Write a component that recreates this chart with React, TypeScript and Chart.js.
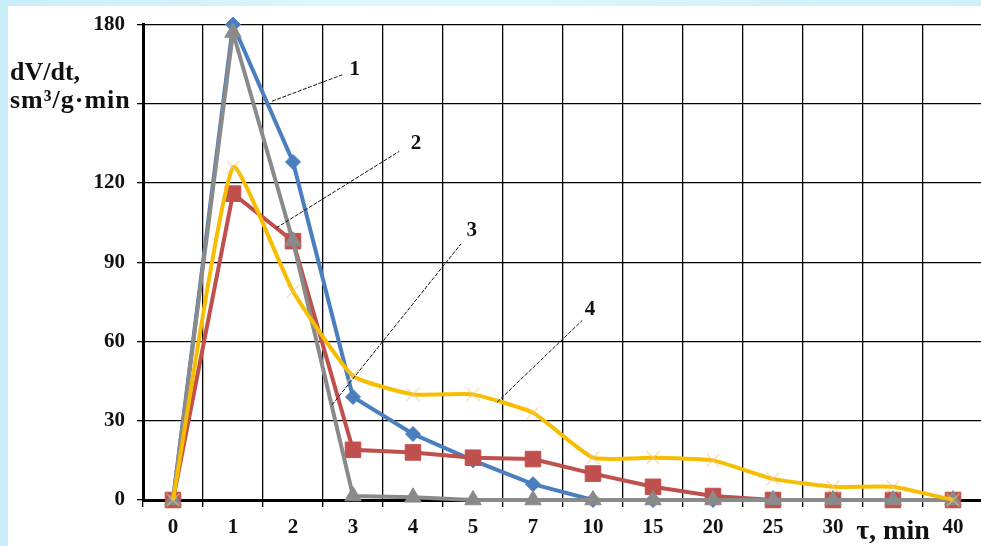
import { useEffect, useRef } from 'react';
import { Chart, registerables } from 'chart.js';

Chart.register(...registerables);

// ---- data ----
const categories = ['0', '1', '2', '3', '4', '5', '7', '10', '15', '20', '25', '30', 'τ, min', '40'];
const xAxisTitle = 'τ, min';
const seriesNames = ['1', '2', '3', '4'];
const curve1 = [0, 180, 128, 39, 25, 15, 6, 0, 0, 0, 0, 0, 0, 0];
const curve2 = [0, 116, 98, 19, 18, 16, 15.5, 10, 5, 1.5, 0, 0, 0, 0];
const curve3 = [0, 177, 98, 1.5, 1, 0, 0, 0, 0, 0, 0, 0, 0, 0];
const curve4 = [0, 126, 79, 47, 40, 40, 33, 16, 16, 15, 8, 5, 5, 0];
const yTickValues = [0, 30, 60, 90, 120, 150, 180];
const yTickLabels = ['0', '30', '60', '90', '120', '', '180'];
const yTitleLines = ['dV/dt,', 'sm³/g·min'];

// callouts in data space: [category index, value]
const calloutText = ['1', '2', '3', '4'];
const calloutFrom = [[1.65, 151], [1.72, 103], [2.65, 36], [5.4, 37]];
const calloutTo = [[2.82, 161], [3.77, 132], [4.8, 97], [6.82, 68]];
const calloutLabelAt = [[3.03, 163], [4.05, 135], [4.98, 102], [6.95, 72]];

const SERIF = '"Liberation Serif", "Times New Roman", serif';

const overlayPlugin = {
  id: 'overlay',
  afterDatasetsDraw(chart: any) {
    const { ctx, scales } = chart;
    const xs = scales.x;
    const ys = scales.y;
    ctx.save();
    // leader lines
    ctx.strokeStyle = '#111';
    ctx.lineWidth = 1;
    ctx.setLineDash([4, 1.5]);
    for (let i = 0; i < calloutText.length; i++) {
      const a = calloutFrom[i];
      const b = calloutTo[i];
      ctx.beginPath();
      ctx.moveTo(xs.getPixelForValue(a[0]), ys.getPixelForValue(a[1]));
      ctx.lineTo(xs.getPixelForValue(b[0]), ys.getPixelForValue(b[1]));
      ctx.stroke();
    }
    ctx.setLineDash([]);
    ctx.fillStyle = '#111';
    ctx.font = `bold 21px ${SERIF}`;
    ctx.textAlign = 'center';
    ctx.textBaseline = 'middle';
    for (let i = 0; i < calloutText.length; i++) {
      const p = calloutLabelAt[i];
      ctx.fillText(calloutText[i], xs.getPixelForValue(p[0]), ys.getPixelForValue(p[1]));
    }
    // y title
    ctx.font = `bold 26px ${SERIF}`;
    ctx.textAlign = 'left';
    ctx.textBaseline = 'alphabetic';
    ctx.fillText(yTitleLines[0], 10, 80);
    (ctx as any).letterSpacing = '1px';
    ctx.fillText(yTitleLines[1], 10, 108);
    (ctx as any).letterSpacing = '0px';
    ctx.restore();
  },
};

export default function App() {
  const ref = useRef<HTMLCanvasElement>(null);

  useEffect(() => {
    if (!ref.current) return;
    const mk = (
      label: string,
      data: number[],
      color: string,
      pointStyle: string,
      radius: number,
      pointColor: string,
      order: number,
      tension: number
    ) => ({
      label,
      data,
      borderColor: color,
      backgroundColor: pointColor,
      pointBackgroundColor: pointColor,
      pointBorderColor: pointColor,
      pointStyle,
      pointRadius: radius,
      pointBorderWidth: 1,
      borderWidth: 4,
      tension,
      order,
      clip: false,
    });
    const chart = new Chart(ref.current, {
      type: 'line',
      data: {
        labels: categories,
        datasets: [
          mk(seriesNames[0], curve1, '#4a7ebf', 'rectRot', 7.5, '#4a7ebf', 3, 0),
          mk(seriesNames[1], curve2, '#c0504d', 'rect', 11, '#c0504d', 2, 0),
          mk(seriesNames[2], curve3, '#8a8a8a', 'triangle', 9.5, '#8a8a8a', 1, 0),
          {
            ...mk(seriesNames[3], curve4, '#f7bd00', 'crossRot', 9, 'rgba(235,200,120,0.55)', 0, 0.15),
            pointBorderWidth: 1.5,
          },
        ] as any,
      },
      options: {
        responsive: false,
        animation: false,
        devicePixelRatio: 1,
        layout: { padding: { top: 24, right: 0, left: 0, bottom: 0 } },
        plugins: {
          legend: { display: false },
          tooltip: { enabled: false },
        },
        scales: {
          x: {
            type: 'category',
            offset: true,
            grid: {
              offset: true,
              color: '#000',
              lineWidth: 1.3,
              tickLength: 7,
              drawTicks: true,
            },
            border: { color: '#000', width: 3 },
            ticks: {
              color: '#111',
              padding: 8,
              autoSkip: false,
              maxRotation: 0,
              font: (c: any) =>
                categories[c.index] === xAxisTitle
                  ? { family: SERIF, size: 28, weight: 'bold' }
                  : { family: SERIF, size: 21, weight: 'bold' },
            },
            afterFit: (s: any) => {
              s.height = 46;
            },
          },
          y: {
            type: 'linear',
            min: 0,
            max: 180,
            afterBuildTicks: (s: any) => {
              s.ticks = yTickValues.map((v) => ({ value: v }));
            },
            grid: {
              color: '#000',
              lineWidth: 1.3,
              tickLength: 6,
              drawTicks: true,
            },
            border: { color: '#000', width: 3 },
            ticks: {
              color: '#111',
              padding: 12,
              font: { family: SERIF, size: 21, weight: 'bold' },
              callback: (_v: any, i: number) => yTickLabels[i],
            },
            afterFit: (s: any) => {
              s.width = 143;
            },
          },
        },
      } as any,
      plugins: [overlayPlugin],
    });
    return () => chart.destroy();
  }, []);

  return (
    <div
      style={{
        position: 'fixed',
        left: 0,
        top: 0,
        width: 981,
        height: 546,
        overflow: 'hidden',
        background: 'linear-gradient(90deg, #c9eef9 0%, #dff7fc 40%, #cdf0fa 100%)',
      }}
    >
      <div
        style={{
          position: 'absolute',
          left: 8,
          top: 6,
          right: 0,
          bottom: 0,
          background: '#fff',
        }}
      />
      <canvas
        ref={ref}
        width={995}
        height={546}
        style={{ position: 'absolute', left: 0, top: 0, width: 995, height: 546 }}
      />
    </div>
  );
}
